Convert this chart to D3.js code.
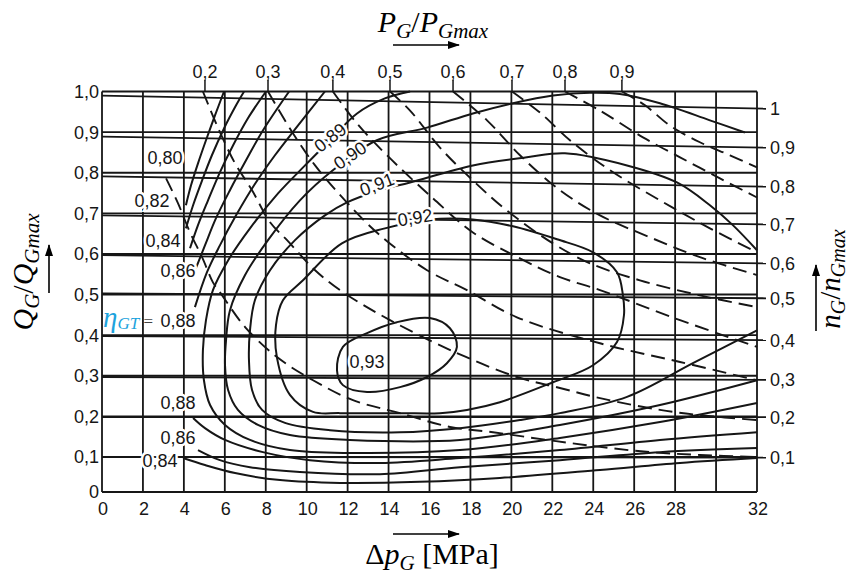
<!DOCTYPE html>
<html><head><meta charset="utf-8">
<script src="https://cdn.jsdelivr.net/npm/d3@7"></script>
<style>
html,body{margin:0;padding:0;background:#fff;}
svg{display:block;}
</style></head><body>
<svg id="chart" width="852" height="574"></svg>
<script>
// ---------- data (Δp in MPa, Q = QG/QGmax) ----------
const deltaPTicks = [0,2,4,6,8,10,12,14,16,18,20,22,24,26,28,32];
const deltaPGrid  = [0,2,4,6,8,10,12,14,16,18,20,22,24,26,28,30,32];
const qTicks = [0,0.1,0.2,0.3,0.4,0.5,0.6,0.7,0.8,0.9,1.0];

// speed lines nG/nGmax
const nLabels = [1,0.9,0.8,0.7,0.6,0.5,0.4,0.3,0.2,0.1];
const nStartQ = [0.990,0.889,0.791,0.695,0.597,0.503,0.398,0.297,0.198,0.100];
const nEndQ   = [0.958,0.862,0.766,0.673,0.577,0.491,0.388,0.290,0.198,0.098];

// power lines PG/PGmax (dashed)
const powerLabels = [0.2,0.3,0.4,0.5,0.6,0.7,0.8,0.9];
const powerTopDp  = [5.03,8.11,11.28,14.07,17.15,20.03,22.62,25.40];
const p01 = [[3.13,0.786],[3.71,0.725],[4.30,0.653],[4.89,0.592],[5.42,0.530],[5.76,0.506],[6.99,0.420],[8.55,0.346],[10.31,0.289],[12.26,0.240],[14.56,0.208],[17.00,0.174],[19.10,0.161],[21.74,0.142],[24.33,0.125],[26.77,0.112],[29.21,0.105],[32,0.100]];
const p02 = [[4.93,1.0],[5.62,0.916],[6.50,0.823],[7.33,0.757],[8.21,0.678],[9.04,0.634],[10.41,0.560],[11.77,0.506],[14.07,0.437],[17.34,0.356],[20.27,0.297],[22.37,0.270],[24.33,0.245],[27.26,0.216],[29.21,0.203],[32,0.191]];
const p03 = [[8.11,1.0],[9.18,0.909],[10.41,0.818],[11.87,0.732],[13.58,0.646],[15.88,0.560],[17.83,0.511],[20.27,0.444],[24.33,0.380],[28.24,0.334],[32,0.289]];
const p04 = [[11.28,1.0],[12.46,0.921],[13.92,0.843],[16.17,0.737],[18.12,0.653],[20.42,0.589],[22.37,0.543],[24.33,0.511],[28.24,0.437],[32,0.371]];
const p05 = [[14.07,1.0],[15.05,0.953],[16.51,0.862],[18.12,0.781],[19.78,0.707],[22.03,0.626],[23.84,0.577],[26.28,0.535],[29.21,0.498],[32,0.469]];
const p06 = [[17.15,1.0],[18.81,0.929],[20.42,0.843],[22.37,0.757],[24.33,0.695],[26.77,0.641],[29.21,0.592],[32,0.548]];
const p07 = [[20.03,1.0],[21.40,0.948],[22.86,0.880],[24.82,0.806],[27.26,0.732],[29.70,0.663],[32,0.604]];
const p08 = [[22.62,1.0],[24.33,0.953],[26.43,0.887],[28.24,0.838],[30.19,0.786],[32,0.739]];
const p09 = [[25.40,1.0],[26.53,0.966],[27.75,0.916],[29.21,0.875],[30.68,0.843],[32,0.813]];

// efficiency contours ηGT
const eta80 = [[4.10,0.720],[4.35,0.769],[4.69,0.823],[5.08,0.880],[5.52,0.941],[5.96,1.0]];
const eta82 = [[4.10,0.663],[4.45,0.720],[4.89,0.781],[5.37,0.843],[5.96,0.909],[6.55,0.966],[6.94,1.0]];
const eta84 = [[4.30,0.614],[4.69,0.671],[5.18,0.732],[5.76,0.801],[6.40,0.867],[7.13,0.934],[8.01,1.0]];
const eta86 = [[4.59,0.565],[5.03,0.621],[5.57,0.688],[6.25,0.757],[7.03,0.830],[7.86,0.904],[9.14,1.0]];
const eta88 = [[4.54,0.469],[5.13,0.555],[5.76,0.621],[6.55,0.695],[7.43,0.769],[8.45,0.843],[9.57,0.916],[10.89,1.0]];
const eta88Low = [[4.45,0.196],[5.03,0.171],[6.01,0.142],[7.86,0.112],[10.16,0.091],[13.58,0.083],[17.49,0.097],[22.37,0.117],[27.26,0.142],[32,0.161]];
const eta86Low = [[4.69,0.117],[5.76,0.091],[7.23,0.071],[9.67,0.057],[13.58,0.051],[17.49,0.071],[22.37,0.091],[27.26,0.112],[32,0.122]];
const eta84Low = [[3.96,0.097],[5.03,0.077],[6.50,0.054],[8.70,0.034],[11.63,0.026],[15.53,0.029],[19.44,0.040],[24.33,0.063],[28.24,0.083],[32,0.097]];
const eta89 = [[15.05,1.0],[13.82,0.983],[12.46,0.946],[11.14,0.880],[9.92,0.818],[8.60,0.749],[7.23,0.663],[6.16,0.584],[5.42,0.511],[5.08,0.437],[4.93,0.363],[4.98,0.289],[5.28,0.228],[6.01,0.179],[7.23,0.142],[9.18,0.117],[12.11,0.110],[17.49,0.117],[22.37,0.147],[27.26,0.186],[32,0.233]];
const eta90 = [[31.41,0.899],[29.70,0.929],[27.26,0.971],[25.30,0.994],[23.84,0.997],[22.03,0.990],[20.08,0.971],[18.12,0.946],[15.88,0.911],[13.43,0.880],[11.28,0.806],[9.67,0.732],[8.11,0.634],[6.99,0.548],[6.25,0.461],[6.06,0.388],[6.01,0.326],[6.16,0.265],[6.64,0.216],[7.62,0.179],[9.18,0.154],[12.11,0.142],[17.49,0.142],[22.37,0.179],[27.26,0.228],[32,0.289]];
const eta91 = [[32,0.609],[30.82,0.671],[29.70,0.720],[28.09,0.776],[25.65,0.818],[22.62,0.848],[20.76,0.838],[18.12,0.818],[15.05,0.776],[13.58,0.757],[11.97,0.727],[10.89,0.695],[9.43,0.634],[8.21,0.560],[7.47,0.486],[7.23,0.412],[7.18,0.339],[7.33,0.265],[7.82,0.216],[8.94,0.184],[11.14,0.166],[14.56,0.161],[17.49,0.171],[20.42,0.191],[22.37,0.208],[25.65,0.248],[28.87,0.331],[32,0.412]];
const eta92 = [[9.82,0.535],[11.72,0.626],[13.82,0.663],[16.02,0.685],[18.12,0.685],[20.08,0.668],[22.23,0.636],[23.99,0.604],[25.16,0.555],[25.45,0.498],[25.50,0.449],[25.16,0.383],[23.99,0.326],[22.03,0.284],[19.44,0.235],[17.83,0.216],[16.51,0.208],[14.56,0.208],[11.63,0.208],[10.31,0.211],[9.18,0.253],[8.55,0.344],[8.50,0.425],[8.84,0.486]];
const eta93 = [[11.48,0.314],[11.77,0.371],[12.95,0.405],[14.41,0.432],[16.02,0.442],[17.00,0.417],[17.34,0.371],[16.85,0.331],[15.88,0.297],[14.56,0.272],[12.95,0.260],[11.77,0.277]];

const openContours = [eta80, eta82, eta84, eta86, eta88, eta88Low, eta86Low, eta84Low, eta89, eta90, eta91];
const closedContours = [eta92, eta93];
const powerLines = [p01, p02, p03, p04, p05, p06, p07, p08, p09];

// contour labels: [text, Δp, Q, angle]
const etaLabels = [
  ["0,80", 3.08, 0.838, 0], ["0,82", 2.44, 0.732, 0], ["0,84", 2.98, 0.634, 0],
  ["0,86", 3.71, 0.560, 0], ["0,88", 3.71, 0.437, 0], ["0,88", 3.71, 0.233, 0],
  ["0,86", 3.71, 0.149, 0], ["0,84", 2.83, 0.089, 0],
  ["0,89", 11.14, 0.887, -38], ["0,90", 12.11, 0.843, -34], ["0,91", 13.43, 0.772, -21],
  ["0,92", 15.29, 0.690, -9], ["0,93", 12.95, 0.334, 0]
];

// ---------- drawing ----------
const svg = d3.select("#chart");
const x = d3.scaleLinear().domain([0, 32]).range([102, 757]);
const y = d3.scaleLinear().domain([0, 0.1, 1]).range([492, 457, 91.5]);
const ink = "#161616";
const fmt = v => (v === 0 ? "0" : d3.format(".1f")(v).replace(".", ","));
const labelFont = "'Liberation Sans', Arial, sans-serif";
const serif = "'Liberation Serif', 'Times New Roman', serif";
const fs = 18;

const plot = svg.append("g");
plot.selectAll("line.v").data(deltaPGrid).join("line").attr("class", "v")
  .attr("x1", d => x(d)).attr("x2", d => x(d)).attr("y1", y(0)).attr("y2", y(1))
  .attr("stroke", ink).attr("stroke-width", 1.8);
plot.selectAll("line.h").data(qTicks).join("line").attr("class", "h")
  .attr("x1", x(0)).attr("x2", x(32)).attr("y1", d => y(d)).attr("y2", d => y(d))
  .attr("stroke", ink).attr("stroke-width", 1.9);

plot.selectAll("line.n").data(nLabels).join("line").attr("class", "n")
  .attr("x1", x(0)).attr("y1", (d, i) => y(nStartQ[i]))
  .attr("x2", x(32) + 9).attr("y2", (d, i) => y(nEndQ[i]) + (y(nEndQ[i]) - y(nStartQ[i])) * 9 / (x(32) - x(0)))
  .attr("stroke", ink).attr("stroke-width", 1.8);

const line = d3.line().x(d => x(d[0])).y(d => y(d[1])).curve(d3.curveCatmullRom.alpha(0.5));
const lineClosed = d3.line().x(d => x(d[0])).y(d => y(d[1])).curve(d3.curveCatmullRomClosed.alpha(0.5));

plot.selectAll("path.p").data(powerLines).join("path").attr("class", "p")
  .attr("d", line).attr("fill", "none").attr("stroke", ink).attr("stroke-width", 1.9)
  .attr("stroke-dasharray", "14,7");
plot.selectAll("line.pt").data(powerTopDp).join("line").attr("class", "pt")
  .attr("x1", d => x(d)).attr("x2", d => x(d)).attr("y1", 80).attr("y2", y(1))
  .attr("stroke", ink).attr("stroke-width", 1.5);

plot.selectAll("path.e").data(openContours).join("path").attr("class", "e")
  .attr("d", line).attr("fill", "none").attr("stroke", ink).attr("stroke-width", 2);
plot.selectAll("path.ec").data(closedContours).join("path").attr("class", "ec")
  .attr("d", lineClosed).attr("fill", "none").attr("stroke", ink).attr("stroke-width", 2);

svg.selectAll("text.el").data(etaLabels).join("text").attr("class", "el")
  .attr("transform", d => `translate(${x(d[1])},${y(d[2])}) rotate(${d[3]})`)
  .attr("text-anchor", "middle").attr("dy", "0.36em")
  .attr("font-family", labelFont).attr("font-size", fs).attr("fill", ink)
  .attr("stroke", "#fff").attr("stroke-width", 5).attr("paint-order", "stroke")
  .text(d => d[0]);

const etaText = svg.append("text").attr("x", 103).attr("y", y(0.437) + 7)
  .attr("font-family", serif).attr("fill", "#1ea3dd");
etaText.append("tspan").attr("font-style", "italic").attr("font-size", 29).text("η");
etaText.append("tspan").attr("font-style", "italic").attr("font-size", 17).attr("dy", 2).text("GT");
etaText.append("tspan").attr("font-size", 17).attr("dy", -2).attr("fill", "#444").text(" =");

svg.selectAll("text.yl").data(qTicks).join("text").attr("class", "yl")
  .attr("x", 99).attr("y", d => y(d)).attr("dy", "0.36em").attr("text-anchor", "end")
  .attr("font-family", labelFont).attr("font-size", fs).attr("fill", ink)
  .text(fmt);
svg.selectAll("text.xl").data(deltaPTicks).join("text").attr("class", "xl")
  .attr("x", d => x(d) + 1).attr("y", 515).attr("text-anchor", "middle")
  .attr("font-family", labelFont).attr("font-size", fs).attr("fill", ink)
  .text(d => d);
svg.selectAll("text.nl").data(nLabels).join("text").attr("class", "nl")
  .attr("x", 770).attr("y", (d, i) => y(nEndQ[i])).attr("dy", "0.36em")
  .attr("font-family", labelFont).attr("font-size", fs).attr("fill", ink)
  .text(d => (d === 1 ? "1" : fmt(d)));
svg.selectAll("text.pl").data(powerLabels).join("text").attr("class", "pl")
  .attr("x", (d, i) => x(powerTopDp[i])).attr("y", 78).attr("text-anchor", "middle")
  .attr("font-family", labelFont).attr("font-size", fs).attr("fill", ink)
  .text(fmt);

const defs = svg.append("defs");
defs.append("marker").attr("id", "ah").attr("viewBox", "0 0 12 8").attr("refX", 11).attr("refY", 4)
  .attr("markerWidth", 12).attr("markerHeight", 8).attr("markerUnits", "userSpaceOnUse").attr("orient", "auto")
  .append("path").attr("d", "M0,0 L12,4 L0,8 Z").attr("fill", "#000");
function arrow(x1, y1, x2, y2) {
  svg.append("line").attr("x1", x1).attr("y1", y1).attr("x2", x2).attr("y2", y2)
    .attr("stroke", "#000").attr("stroke-width", 1.6).attr("marker-end", "url(#ah)");
}
arrow(393, 45, 459, 45);
arrow(393, 534, 459, 534);
arrow(49, 293, 49, 245);
arrow(816, 331, 816, 265);

function subTitle(g, parts, big, small) {
  parts.forEach(p => {
    const t = g.append("tspan").text(p.t).attr("font-size", p.sub ? small : big);
    if (p.it) t.attr("font-style", "italic");
    if (p.dy) t.attr("dy", p.dy);
  });
}
const titleTop = svg.append("text").attr("x", 433).attr("y", 32).attr("text-anchor", "middle")
  .attr("font-family", serif).attr("fill", "#000");
subTitle(titleTop, [{t:"P", it:1}, {t:"G", it:1, sub:1, dy:6}, {t:"/", dy:-6}, {t:"P", it:1}, {t:"Gmax", it:1, sub:1, dy:6}], 30, 21);

const titleBottom = svg.append("text").attr("x", 432).attr("y", 564).attr("text-anchor", "middle")
  .attr("font-family", serif).attr("fill", "#000");
subTitle(titleBottom, [{t:"Δ"}, {t:"p", it:1}, {t:"G", it:1, sub:1, dy:6}, {t:" [MPa]", dy:-6}], 30, 21);

const titleLeft = svg.append("text").attr("transform", "translate(33,272) rotate(-90)").attr("text-anchor", "middle")
  .attr("font-family", serif).attr("fill", "#000");
subTitle(titleLeft, [{t:"Q", it:1}, {t:"G", it:1, sub:1, dy:6}, {t:"/", dy:-6}, {t:"Q", it:1}, {t:"Gmax", it:1, sub:1, dy:6}], 30, 21);

const titleRight = svg.append("text").attr("transform", "translate(840,279) rotate(-90)").attr("text-anchor", "middle")
  .attr("font-family", serif).attr("fill", "#000");
subTitle(titleRight, [{t:"n", it:1}, {t:"G", it:1, sub:1, dy:5}, {t:"/", dy:-5}, {t:"n", it:1}, {t:"Gmax", it:1, sub:1, dy:5}], 29, 20);
</script></body></html>
